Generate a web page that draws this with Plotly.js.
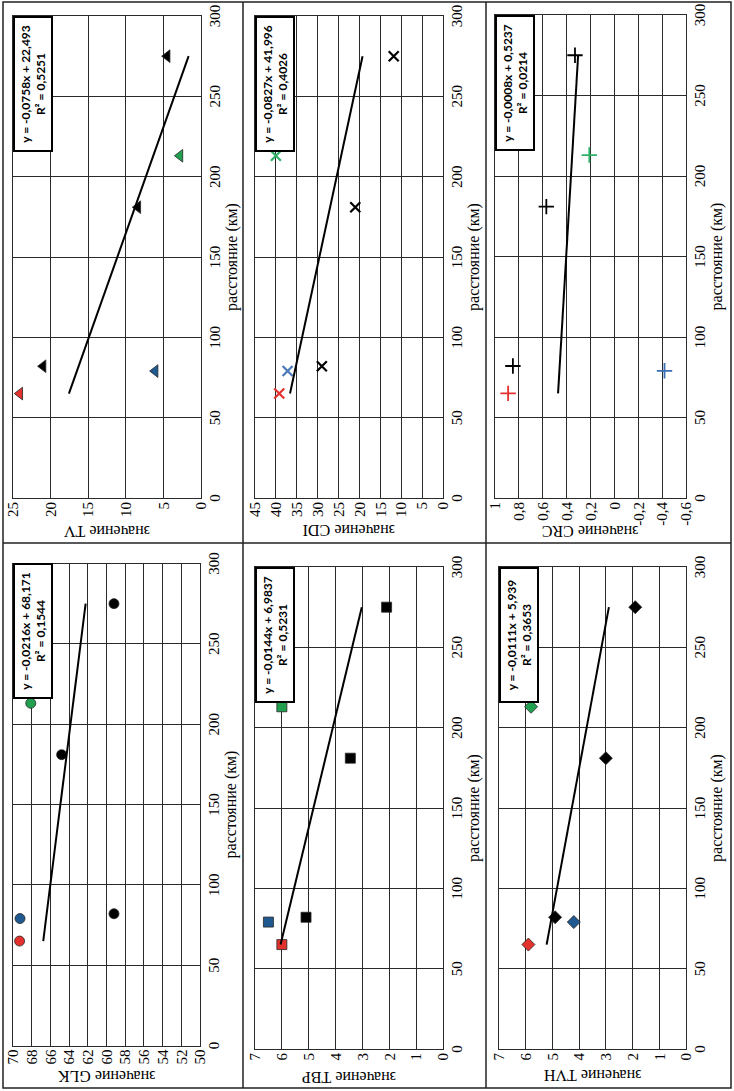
<!DOCTYPE html>
<html>
<head>
<meta charset="utf-8">
<script src="https://cdn.plot.ly/plotly-3.0.1.min.js"></script>
<style>
  html, body { margin:0; padding:0; background:#fff; width:734px; height:1091px; overflow:hidden; }
  #wrap { position:absolute; left:0; top:0; width:1091px; height:734px;
          transform-origin:0 0; transform:translateY(1091px) rotate(-90deg); }
  #plot { width:1091px; height:734px; }
</style>
</head>
<body>
<div id="wrap"><div id="plot"></div></div>
<script>
// ---- data ----
const panelNames = ['GLK', 'TV', 'TBP', 'CDI', 'TVH', 'CRC'];
const dist = [65, 79, 82, 181, 213, 275];           // расстояние (км)
const valGLK = [69.3, 69.25, 59.2, 64.8, 68.1, 59.2];
const valTV  = [24.1, 6.1, 21.0, 8.4, 2.8, 4.5];
const valTBP = [6.0, 6.5, 5.1, 3.45, 6.0, 2.1];
const valCDI = [39.2, 37.2, 29.0, 21.0, 40.0, 11.8];
const valTVH = [5.9, 4.2, 4.9, 3.0, 5.8, 1.9];
const valCRC = [0.89, -0.42, 0.85, 0.57, 0.21, 0.33];
const slopes     = [-0.0216, -0.0758, -0.0144, -0.0827, -0.0111, -0.0008];
const intercepts = [68.171, 22.493, 6.9837, 41.996, 5.939, 0.5237];
const eqLabels = ['y = -0,0216x + 68,171', 'y = -0,0758x + 22,493', 'y = -0,0144x + 6,9837',
                  'y = -0,0827x + 41,996', 'y = -0,0111x + 5,939', 'y = -0,0008x + 0,5237'];
const r2Labels = ['R² = 0,1544', 'R² = 0,5251', 'R² = 0,5231', 'R² = 0,4026', 'R² = 0,3653', 'R² = 0,0214'];
const distTicks = [0, 50, 100, 150, 200, 250, 300];
const crcTickVals = [1, 0.8, 0.6, 0.4, 0.2, 0, -0.2, -0.4, -0.6];
const crcTickText = ['1', '0,8', '0,6', '0,4', '0,2', '0', '-0,2', '-0,4', '-0,6'];

const values = [valGLK, valTV, valTBP, valCDI, valTVH, valCRC];

// ---- styles ----
const RED = '#e3312d', BLUE = '#20598f', BLACK = '#000000';
const pointColors = [
  [RED, BLUE, BLACK, BLACK, '#21a04f', BLACK],
  [RED, BLUE, BLACK, BLACK, '#21a04f', BLACK],
  [RED, BLUE, BLACK, BLACK, '#21a04f', BLACK],
  [RED, '#4a78b8', BLACK, BLACK, '#2fb268', BLACK],
  [RED, BLUE, BLACK, BLACK, '#21a04f', BLACK],
  [RED, '#3a6fb5', BLACK, BLACK, '#2fb268', BLACK]
];
const symbols = ['circle', 'triangle-up', 'square', 'x-thin-open', 'diamond', 'cross-thin-open'];
const sizes = [10, 11, 10, 10, 10, 11];
const valueRanges = [[50, 70], [0, 25], [0, 7], [0, 45], [0, 7], [-0.6, 1]];
const valueDticks = [2, 5, 1, 5, 1, 0.2];
// plot areas in px of the unrotated figure: [x0, x1, yTop, yBottom]
const areas = [
  [45.5, 527.5, 13, 200],
  [593, 1075, 13, 201],
  [42, 524, 255, 443],
  [593, 1075, 255, 443],
  [42, 524, 499, 686],
  [593, 1076, 495, 686]
];
const yTitleX = [15, 560, 13, 560, 16, 560];

const W = 1091, H = 734;
const serif = 'Liberation Serif, Times New Roman, serif';
const traces = [];
const layout = {
  width: W, height: H,
  margin: {l: 0, r: 0, t: 0, b: 0},
  paper_bgcolor: '#fff', plot_bgcolor: '#fff',
  showlegend: false,
  separators: ', ',
  font: {family: serif, size: 15, color: '#000'},
  annotations: [], shapes: []
};

for (let i = 0; i < 6; i++) {
  const n = i === 0 ? '' : String(i + 1);
  const a = areas[i];
  const xa = 'x' + n, ya = 'y' + n;
  const marker = {
    symbol: symbols[i], size: sizes[i], color: pointColors[i],
    line: {color: (i === 3 || i === 5) ? pointColors[i] : '#262626',
           width: (i === 3) ? 2.2 : (i === 5 ? 1.8 : 0.8)}
  };
  traces.push({
    type: 'scatter', mode: 'markers', x: dist, y: values[i],
    xaxis: xa, yaxis: ya, marker: marker, hoverinfo: 'x+y'
  });
  const xmin = Math.min(...dist), xmax = Math.max(...dist);
  traces.push({
    type: 'scatter', mode: 'lines', x: [xmin, xmax],
    y: [slopes[i] * xmin + intercepts[i], slopes[i] * xmax + intercepts[i]],
    xaxis: xa, yaxis: ya, line: {color: '#000', width: 2}, hoverinfo: 'skip'
  });
  const grid = {
    showgrid: true, gridcolor: '#2a2a2a', gridwidth: 1,
    showline: true, linecolor: '#2a2a2a', linewidth: 1, mirror: true,
    zeroline: false, ticks: '', tickfont: {family: serif, size: 15, color: '#000'}
  };
  layout['xaxis' + n] = Object.assign({}, grid, {
    domain: [a[0] / W, a[1] / W], anchor: ya,
    range: [0, 300], tickvals: distTicks,
    title: {text: 'расстояние (км)', font: {family: serif, size: 16, color: '#000'}, standoff: 2}
  });
  const yax = Object.assign({}, grid, {
    domain: [1 - a[3] / H, 1 - a[2] / H], anchor: xa,
    range: valueRanges[i], dtick: valueDticks[i], tick0: 0
  });
  if (i === 5) { yax.tickvals = crcTickVals; yax.ticktext = crcTickText; delete yax.dtick; }
  layout['yaxis' + n] = yax;
  // value-axis title
  layout.annotations.push({
    xref: 'paper', yref: ya + ' domain', x: yTitleX[i] / W, y: 0.5,
    xanchor: 'center', yanchor: 'middle', textangle: -90, showarrow: false,
    text: 'значение ' + panelNames[i],
    font: {family: serif, size: 16, color: '#000'}
  });
  // trendline equation box
  layout.annotations.push({
    xref: xa + ' domain', yref: ya + ' domain', x: 1, y: 1,
    xanchor: 'right', yanchor: 'top', showarrow: false,
    text: '<b>' + eqLabels[i] + '<br>' + r2Labels[i] + '</b>',
    font: {family: 'Lato, Open Sans, sans-serif', size: 12, color: '#000'},
    bgcolor: '#fff', bordercolor: '#000', borderwidth: 2, borderpad: 3,
    width: 126, height: 30, align: 'center'
  });
}

// panel frames
const frameLine = {color: '#222', width: 1.5};
function px(x) { return x / W; }
function py(y) { return 1 - y / H; }
layout.shapes.push({type: 'rect', xref: 'paper', yref: 'paper', x0: px(3), x1: px(1089), y0: py(731), y1: py(3), line: frameLine});
layout.shapes.push({type: 'line', xref: 'paper', yref: 'paper', x0: px(548), x1: px(548), y0: py(731), y1: py(3), line: frameLine});
layout.shapes.push({type: 'line', xref: 'paper', yref: 'paper', x0: px(3), x1: px(1089), y0: py(243), y1: py(243), line: frameLine});
layout.shapes.push({type: 'line', xref: 'paper', yref: 'paper', x0: px(3), x1: px(1089), y0: py(486), y1: py(486), line: frameLine});

Plotly.newPlot('plot', traces, layout, {displayModeBar: false, responsive: false});
</script>
</body>
</html>
